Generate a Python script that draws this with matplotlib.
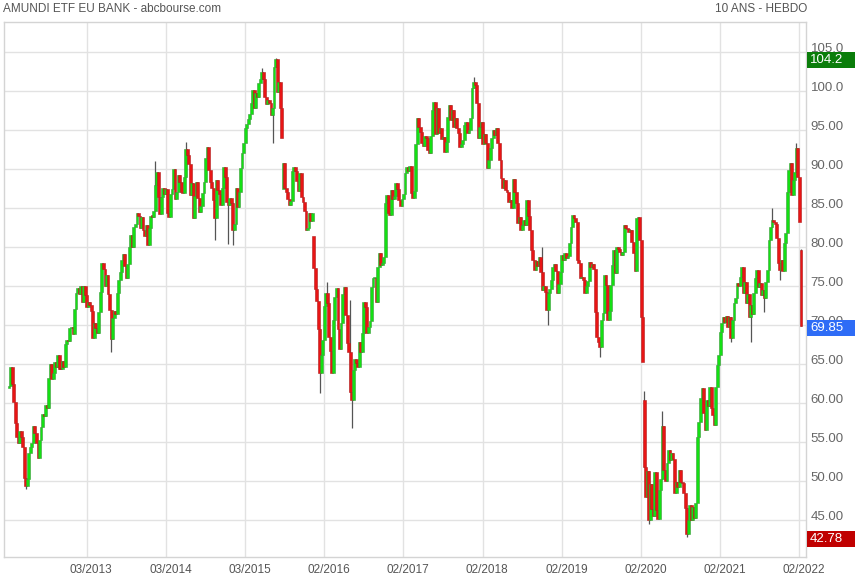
import matplotlib
matplotlib.use("Agg")
import matplotlib.pyplot as plt
from matplotlib.patches import Rectangle
from matplotlib.transforms import blended_transform_factory

# weekly closes, 12/03/2012 -> 28/02/2022 (one value per week)
closes = [
    62.2, 64.6, 62.4, 60.1, 57.4, 55.6, 54.9, 56.4, 55.6, 54.4,
    50.4, 49.3, 50.2, 53.6, 54.3, 54.9, 57.0, 56.1, 54.9, 53.0,
    55.3, 56.9, 58.6, 58.3, 59.8, 59.4, 63.2, 65.0, 63.1, 63.8,
    65.2, 64.6, 66.2, 64.4, 64.3, 65.4, 64.6, 67.6, 68.1, 67.9,
    69.6, 69.8, 68.8, 72.0, 74.1, 74.7, 74.0, 75.0, 72.9, 75.0,
    73.9, 72.3, 73.0, 72.6, 71.8, 68.3, 70.3, 69.6, 69.0, 71.7,
    74.2, 77.9, 77.2, 75.0, 76.4, 74.0, 71.9, 68.2, 70.9, 71.8,
    71.4, 74.1, 75.8, 76.8, 78.3, 79.1, 77.6, 76.0, 77.8, 80.0,
    81.5, 80.0, 82.6, 83.0, 84.4, 84.0, 82.4, 83.9, 82.2, 81.4,
    82.8, 80.3, 82.4, 84.0, 83.9, 84.6, 87.9, 89.6, 86.4, 84.2,
    86.4, 87.6, 86.8, 87.4, 84.4, 83.9, 86.8, 87.4, 90.0, 86.1,
    87.0, 89.2, 88.4, 87.0, 86.9, 89.0, 92.6, 91.8, 90.6, 86.7,
    88.2, 83.7, 86.5, 88.3, 86.3, 84.5, 85.2, 86.9, 88.3, 91.4,
    92.8, 89.9, 88.3, 87.6, 86.0, 83.7, 88.6, 87.3, 86.8, 85.4,
    87.6, 90.3, 89.0, 85.8, 85.4, 86.3, 85.6, 82.2, 83.0, 87.6,
    85.1, 87.0, 90.1, 92.0, 93.4, 95.3, 95.8, 96.4, 97.0, 98.5,
    100.1, 97.8, 99.8, 99.2, 101.0, 101.5, 102.4, 101.6, 99.2, 98.4,
    98.8, 98.5, 96.9, 97.8, 103.1, 104.1, 99.9, 101.2, 97.8, 94.0,
    90.8, 87.6, 87.0, 86.2, 85.4, 85.9, 89.8, 90.3, 89.7, 88.5,
    87.2, 89.5, 86.4, 85.8, 84.6, 82.2, 82.4, 84.4, 83.3, 84.4,
    77.3, 74.6, 73.1, 69.5, 63.9, 66.2, 68.1, 72.5, 74.1, 72.8,
    68.5, 66.7, 63.8, 70.6, 73.6, 74.7, 69.5, 66.9, 70.2, 74.0,
    74.9, 71.3, 67.7, 66.5, 61.4, 60.4, 64.2, 65.6, 65.1, 64.6,
    67.8, 66.5, 69.0, 72.9, 72.3, 69.0, 69.8, 70.5, 74.9, 76.0,
    76.0, 72.9, 77.4, 79.2, 77.7, 78.0, 78.7, 85.6, 86.7, 84.4,
    84.1, 87.3, 86.2, 86.6, 88.2, 87.4, 86.0, 85.2, 86.2, 86.8,
    89.5, 90.2, 89.8, 90.4, 86.9, 86.3, 87.2, 93.2, 96.6, 95.4,
    94.8, 93.3, 93.0, 94.2, 94.0, 92.4, 92.0, 94.2, 97.6, 98.6,
    94.5, 97.8, 94.6, 95.2, 93.8, 94.1, 92.2, 93.5, 96.7, 98.2,
    96.3, 97.6, 95.4, 96.5, 95.3, 94.6, 92.8, 93.2, 93.7, 95.6,
    96.0, 94.6, 95.0, 96.5, 100.4, 101.2, 100.8, 98.5, 94.0, 95.4,
    96.0, 93.2, 94.5, 93.4, 90.1, 91.2, 92.7, 94.0, 95.0, 94.4,
    95.2, 93.3, 91.2, 88.8, 87.6, 88.6, 87.3, 87.1, 85.8, 86.0,
    85.0, 88.7, 87.0, 85.6, 83.1, 83.8, 82.2, 82.8, 83.5, 82.8,
    86.0, 84.0, 82.2, 79.6, 78.3, 77.1, 78.2, 77.6, 78.7, 76.8,
    74.5, 75.0, 74.2, 71.9, 74.1, 74.6, 75.8, 77.4, 77.8, 76.9,
    74.1, 75.3, 76.8, 79.0, 78.3, 79.2, 78.6, 78.9, 80.5, 82.6,
    84.1, 83.7, 83.2, 78.3, 77.9, 76.0, 76.2, 75.8, 74.1, 75.0,
    75.6, 78.1, 77.4, 77.8, 77.2, 71.7, 68.5, 67.8, 67.2, 70.6,
    71.6, 76.4, 75.1, 70.6, 71.8, 75.1, 77.7, 79.6, 76.7, 80.0,
    79.8, 79.3, 79.0, 79.4, 82.8, 82.5, 82.3, 81.9, 82.2, 80.6,
    79.2, 76.9, 83.7, 83.9, 80.9, 71.0, 65.3, 51.8, 48.0, 51.3,
    45.0, 49.6, 46.4, 45.5, 51.2, 46.3, 45.1, 48.8, 50.2, 57.0,
    51.4, 50.0, 52.3, 54.0, 52.7, 53.6, 52.8, 48.5, 49.9, 49.2,
    51.4, 49.9, 49.7, 48.5, 46.5, 43.2, 45.0, 46.9, 45.0, 46.7,
    45.2, 47.2, 55.6, 57.6, 60.6, 61.9, 58.7, 56.5, 60.4, 59.6,
    62.0, 59.4, 58.5, 57.2, 62.1, 64.9, 66.2, 69.1, 70.2, 71.0,
    70.4, 71.2, 69.7, 71.0, 68.3, 70.6, 72.8, 73.5, 75.4, 75.0,
    76.2, 77.4, 74.1, 75.5, 72.8, 74.0, 71.0, 72.6, 71.4, 74.1,
    76.0, 77.0, 74.9, 75.4, 73.8, 74.5, 73.5, 75.5, 77.0, 80.9,
    82.6, 83.5, 83.2, 83.0, 81.2, 77.9, 77.1, 78.4, 76.9, 80.5,
    81.8, 87.1, 89.9, 90.8, 86.7, 88.6, 89.6, 92.7, 89.0, 83.2,
    69.85,
]

# weeks that opened away from the previous close
gap_opens = {0: 61.9, 180: 87.5, 200: 81.4, 417: 60.4, 520: 79.6}

# visible wicks beyond the candle body
wick_highs = {96: 91.0, 116: 93.5, 166: 103.0, 175: 104.2, 209: 75.5,
              224: 73.2, 305: 101.8, 350: 80.0, 417: 61.5, 429: 59.0,
              501: 85.0, 517: 93.3, 520: 79.8}
wick_lows = {11: 49.0, 67: 66.5, 135: 80.9, 144: 80.4, 147: 80.3,
             173: 93.3, 204: 61.3, 225: 56.8, 354: 70.0, 388: 65.9,
             420: 44.5, 445: 42.78, 474: 67.8, 487: 67.8, 496: 71.7,
             506: 75.8}

tick_weeks = [51, 103, 155, 207, 259, 311, 363, 415, 467, 519]
tick_labels = ["03/2013", "03/2014", "03/2015", "02/2016", "02/2017",
               "02/2018", "02/2019", "02/2020", "02/2021", "02/2022"]

y_ticks = [45, 50, 55, 60, 65, 70, 75, 80, 85, 90, 95, 100, 105]
y_tick_labels = ["45.00", "50.00", "55.00", "60.00", "65.00", "70.00",
                 "75.00", "80.00", "85.00", "90.00", "95.00", "100.0", "105.0"]

last_close = 69.85
period_high = 104.2
period_low = 42.78

font = ["Liberation Sans", "DejaVu Sans"]

W, H = 855, 580
fig = plt.figure(figsize=(W / 100, H / 100), dpi=100)
fig.patch.set_facecolor("white")
ax = fig.add_axes([4 / W, 23 / H, 802 / W, 535 / H])

n = len(closes)
opens = [gap_opens.get(i, closes[i - 1] if i > 0 else closes[0]) for i in range(n)]

# grid
for v in y_ticks:
    ax.axhline(v, color="#e2e2e2", lw=1, zorder=0)
for t in tick_weeks:
    ax.axvline(t, color="#e2e2e2", lw=1, zorder=0)

# candles
for i in range(n):
    o, c = opens[i], closes[i]
    top, bot = max(o, c), min(o, c)
    hi = wick_highs.get(i, top)
    lo = wick_lows.get(i, bot)
    if hi > top or lo < bot:
        ax.vlines(i, lo, hi, color="#555555", lw=0.9, zorder=2)
    up = c >= o
    face = "#14e014" if up else "#e81515"
    edge = "#3a9a3a" if up else "#b01c1c"
    ax.bar(i, max(top - bot, 0.18), bottom=bot, width=1.9,
           color=face, edgecolor=edge, linewidth=0.4, zorder=3)

ax.set_xlim(-3.3, 523.3)
ax.set_ylim(40.26, 108.85)
ax.set_xticks([])
ax.set_yticks([])
for s in ax.spines.values():
    s.set_color("#d4d4d4")
    s.set_linewidth(1)

trans = blended_transform_factory(ax.transAxes, ax.transData)
for v, lab in zip(y_ticks, y_tick_labels):
    ax.text(1.006, v + 0.35, lab, transform=trans, ha="left", va="center",
            fontsize=9.5, color="#666666", family=font, clip_on=False)

xtrans = blended_transform_factory(ax.transData, ax.transAxes)
for t, lab in zip(tick_weeks, tick_labels):
    ax.text(t + 3, -0.025, lab, transform=xtrans, ha="center", va="center",
            fontsize=8.5, color="#555555", family=font, clip_on=False)

# value tags on the right edge
fig.canvas.draw()
for value, col in [(period_high, "#0a7d0a"), (last_close, "#2e6cf6"), (period_low, "#c00000")]:
    ypix = ax.transData.transform((0, value))[1] - 1.5
    fig.patches.append(Rectangle((807 / W, (ypix - 8) / H), 48 / W, 16 / H,
                                 transform=fig.transFigure, facecolor=col,
                                 edgecolor="none", zorder=5))
    label = f"{value:.1f}" if value >= 100 else f"{value:.2f}"
    fig.text(810 / W, ypix / H, label, ha="left", va="center", fontsize=9.5,
             color="white", family=font, zorder=6)

fig.text(3 / W, 1 - 9 / H, "AMUNDI ETF EU BANK - abcbourse.com", ha="left",
         va="center", fontsize=8.5, color="#555555", family=font)
fig.text(807 / W, 1 - 9 / H, "10 ANS - HEBDO", ha="right", va="center",
         fontsize=8.5, color="#555555", family=font)

fig.savefig("out.png", dpi=100)
